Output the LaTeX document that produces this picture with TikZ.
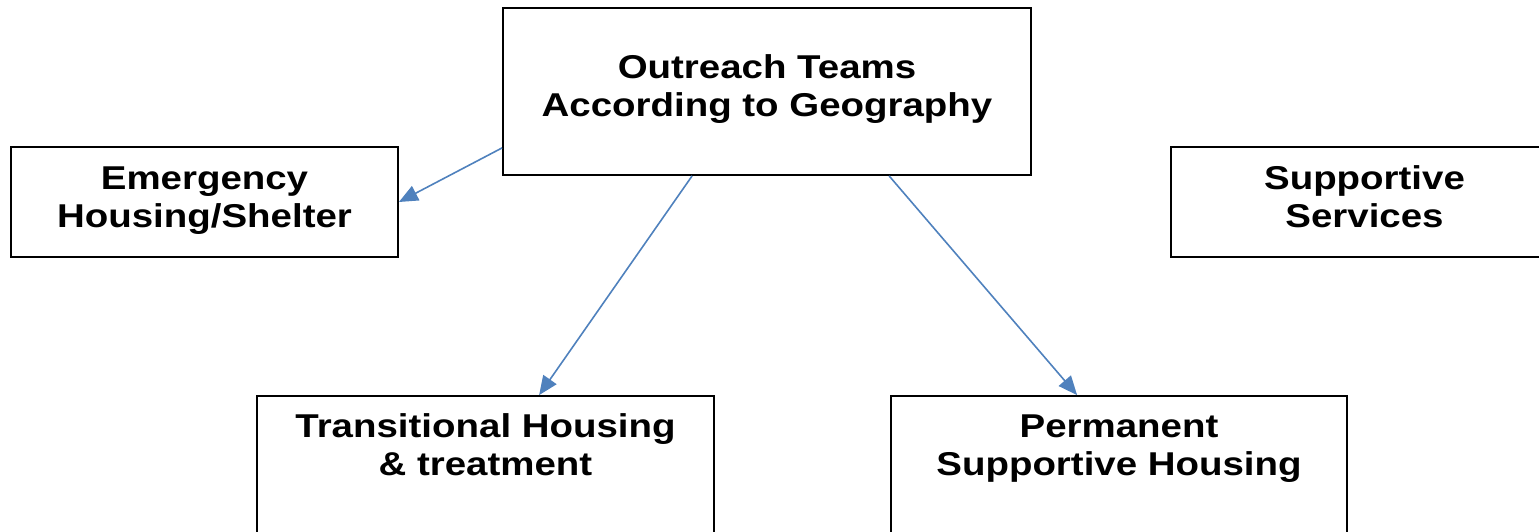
\documentclass[tikz,border=0pt]{standalone}
\usepackage{fontspec}
\setmainfont{Liberation Sans}[FakeStretch=1.165]
\usetikzlibrary{arrows.meta,calc}
\definecolor{arrowblue}{HTML}{4F81BD}
\tikzset{
  box/.style={draw=black, line width=1.8pt, rectangle, inner sep=0pt},
  lbl/.style={align=center, font=\fontsize{33}{38}\selectfont\bfseries, inner sep=0pt},
  conn/.style={draw=arrowblue, line width=1.6pt, -{Triangle[length=19pt,width=16pt]}}
}
\begin{document}
\begin{tikzpicture}[x=1pt,y=-1pt]
\useasboundingbox (0,0) rectangle (1539,532);
\clip (0,0) rectangle (1539,532);
\node[box, minimum width=528pt, minimum height=167pt] (out) at (767,91.5) {};
\node[box, minimum width=387pt, minimum height=110pt] (emg) at (204.5,202) {};
\node[box, minimum width=387pt, minimum height=110pt] (sup) at (1364.5,202) {};
\node[box, minimum width=457pt, minimum height=167pt] (trn) at (485.5,479.5) {};
\node[box, minimum width=456pt, minimum height=167pt] (prm) at (1119,479.5) {};
\node[lbl] (outl) at (767,89) {Outreach Teams\\According to Geography};
\node[lbl] (emgl) at (204.5,200.5) {Emergency\\Housing/Shelter};
\node[lbl] (supl) at (1364.5,196.5) {Supportive\\Services};
\node[lbl] (trnl) at (485.5,445) {Transitional Housing\\\& treatment};
\node[lbl] (prml) at (1119,449) {Permanent\\Supportive Housing};
\draw[conn] ([yshift=28pt]out.south west) -- (emg.east);
\draw[conn] ([xshift=190pt]out.south west) -- ([xshift=283pt]trn.north west);
\draw[conn] ([xshift=387pt]out.south west) -- ([xshift=187pt]prm.north west);
\end{tikzpicture}
\end{document}
